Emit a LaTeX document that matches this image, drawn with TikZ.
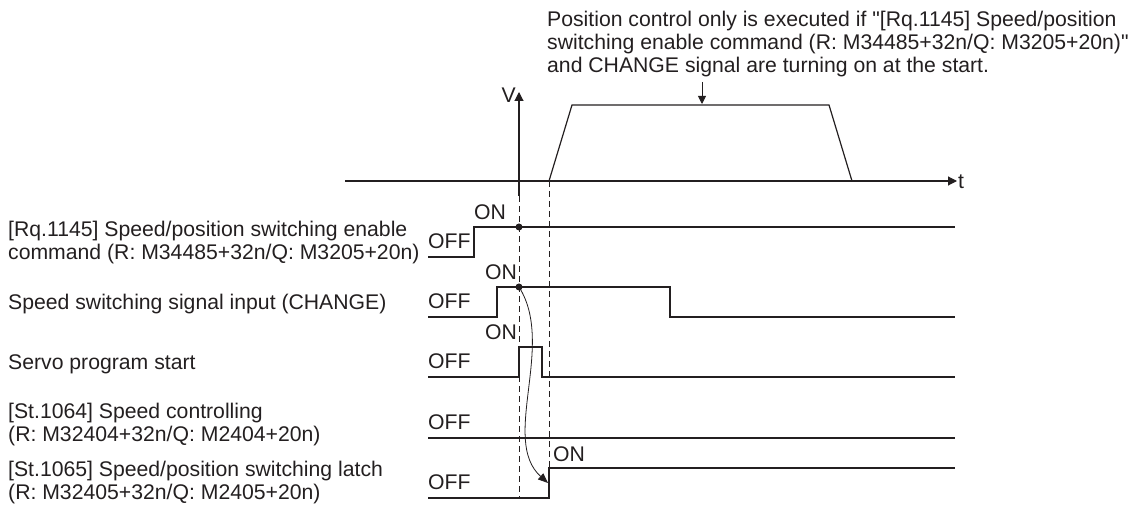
\documentclass[tikz,border=0pt]{standalone}
\usepackage{fontspec}
\setmainfont{Liberation Sans}[Ligatures=TeXOff]
\usetikzlibrary{arrows.meta}
\definecolor{ln}{HTML}{231F20}
\begin{document}
\begin{tikzpicture}[x=1pt,y=-1pt,
  sig/.style={draw=ln,line width=1.3pt,line join=miter},
  axis/.style={draw=ln,line width=1.1pt},
  dashln/.style={draw=ln,line width=0.9pt,dash pattern=on 6pt off 4pt},
  lbl/.style={anchor=base west,inner sep=0pt,font=\fontsize{21.2}{23}\selectfont,text=ln,align=left},
  onoff/.style={anchor=base west,inner sep=0pt,font=\fontsize{21.2}{23}\selectfont,text=ln},
  tip/.style={-{Triangle[length=9pt,width=9pt]}}
]
\useasboundingbox (0,0) rectangle (1128,510);

% top note (anchor = baseline of last line)
\node[lbl] (note) at (547,73) {Position control only is executed if "[Rq.1145] Speed/position\\switching enable command (R: M34485+32n/Q: M3205+20n)"\\and CHANGE signal are turning on at the start.};

% axes
\coordinate (t0) at (345,181);
\coordinate (t1) at (957,181);
\coordinate (v0) at (519,196);
\coordinate (v1) at (519,92);
\draw[axis,tip] (t0) -- (t1);
\draw[axis,tip] (v0) -- (v1);
\node[onoff,anchor=base east] (vlab) at (516,103) {V};
\node[onoff] (tlab) at (958,189) {t};

% speed trapezoid
\draw[sig,line width=1.2pt] (549,181) -- (572,105) -- (829,105) -- (852,181);
\coordinate (na) at (702,82);
\coordinate (nb) at (702,104);
\draw[ln,line width=0.9pt,-{Triangle[length=8pt,width=8pt]}] (na) -- (nb);

% dashed lines
\draw[dashln] (519,196) -- (519,498);
\draw[dashln] (549,181) -- (549,468);

% left labels (anchor = baseline of last line)
\node[lbl] (l1) at (8,260) {[Rq.1145] Speed/position switching enable\\command (R: M34485+32n/Q: M3205+20n)};
\node[lbl] (l2) at (8,310) {Speed switching signal input (CHANGE)};
\node[lbl] (l3) at (8,370) {Servo program start};
\node[lbl] (l4) at (8,442) {[St.1064] Speed controlling\\(R: M32404+32n/Q: M2404+20n)};
\node[lbl] (l5) at (8,500) {[St.1065] Speed/position switching latch\\(R: M32405+32n/Q: M2405+20n)};

% signals
\draw[sig] (428,257) -- (474,257) -- (474,227) -- (955,227);
\draw[sig] (428,317) -- (497,317) -- (497,287) -- (670,287) -- (670,317) -- (955,317);
\draw[sig] (428,377) -- (519,377) -- (519,347) -- (542,347) -- (542,377) -- (955,377);
\draw[sig] (428,438) -- (955,438);
\draw[sig] (428,498) -- (549,498) -- (549,468) -- (955,468);

% OFF / ON labels
\node[onoff] (off1) at (428,249) {OFF};
\node[onoff] (off2) at (428,309) {OFF};
\node[onoff] (off3) at (428,369) {OFF};
\node[onoff] (off4) at (428,430) {OFF};
\node[onoff] (off5) at (428,490) {OFF};
\node[onoff] (on1) at (474,220) {ON};
\node[onoff] (on2) at (485,280) {ON};
\node[onoff] (on3) at (485,340) {ON};
\node[onoff] (on5) at (553,462) {ON};

% dots and curved arrow
\coordinate (d1) at (519,227);
\coordinate (d2) at (519,287);
\coordinate (latch) at (548,483);
\fill[ln] (d1) circle (3.5pt);
\fill[ln] (d2) circle (3.5pt);
\draw[ln,line width=0.8pt,-{Triangle[length=10pt,width=8pt]}] (d2) .. controls (556,345) and (500,440) .. (latch);
\end{tikzpicture}
\end{document}
